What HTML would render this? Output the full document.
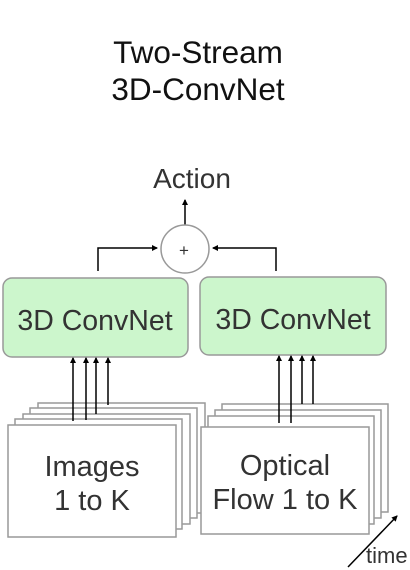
<!DOCTYPE html>
<html><head><style>body{margin:0;background:#fff}svg{display:block}</style></head><body>
<svg width="410" height="570" viewBox="0 0 410 570" xmlns="http://www.w3.org/2000/svg" font-family="Liberation Sans, sans-serif">
<defs><marker id="a" markerWidth="6" markerHeight="6" refX="5" refY="3" orient="auto" markerUnits="userSpaceOnUse"><path d="M0,0 L6,3 L0,6 z" fill="#000"/></marker></defs>
<text x="198" y="63" font-size="31.5" text-anchor="middle" fill="#111">Two-Stream</text>
<text x="198" y="100" font-size="31.5" text-anchor="middle" fill="#111">3D-ConvNet</text>
<text x="192" y="188" font-size="28" text-anchor="middle" fill="#333">Action</text>
<line x1="185" y1="225" x2="185" y2="200" stroke="#000" stroke-width="1.5" marker-end="url(#a)"/>
<circle cx="185" cy="249" r="24" fill="#fff" stroke="#999" stroke-width="1.5"/>
<text x="184" y="256" font-size="17" text-anchor="middle" fill="#333">+</text>
<polyline points="98,271 98,248 157,248" fill="none" stroke="#000" stroke-width="1.5" marker-end="url(#a)"/>
<polyline points="276,271 276,248 213,248" fill="none" stroke="#000" stroke-width="1.5" marker-end="url(#a)"/>
<rect x="3" y="278" width="185" height="79" rx="9" fill="#ccf6cc" stroke="#999" stroke-width="1.5"/>
<rect x="200" y="277" width="186" height="78" rx="9" fill="#ccf6cc" stroke="#999" stroke-width="1.5"/>
<text x="95" y="330" font-size="28.5" text-anchor="middle" fill="#333">3D ConvNet</text>
<text x="293" y="329" font-size="28.5" text-anchor="middle" fill="#333">3D ConvNet</text>
<g fill="#fff" stroke="#999" stroke-width="1.5">
<rect x="38" y="403" width="167" height="110"/>
<rect x="30" y="408" width="167" height="110"/>
<rect x="23" y="414" width="167" height="110"/>
<rect x="15" y="419" width="167" height="110"/>
<rect x="8" y="425" width="168" height="112"/>
<rect x="222" y="404" width="166" height="108"/>
<rect x="215" y="410" width="166" height="108"/>
<rect x="208" y="416" width="166" height="108"/>
<rect x="201" y="427" width="168" height="107"/>
</g>
<g stroke="#000" stroke-width="1.5" marker-end="url(#a)">
<line x1="73" y1="421" x2="73" y2="358"/><line x1="86" y1="420" x2="86" y2="358"/>
<line x1="96" y1="414" x2="96" y2="358"/><line x1="108" y1="405" x2="108" y2="358"/>
<line x1="279" y1="423" x2="279" y2="356"/><line x1="291" y1="423" x2="291" y2="356"/>
<line x1="302" y1="404" x2="302" y2="356"/><line x1="313" y1="404" x2="313" y2="356"/>
</g>
<text x="92" y="476" font-size="29" text-anchor="middle" fill="#333">Images</text>
<text x="92" y="510" font-size="29" text-anchor="middle" fill="#333">1 to K</text>
<text x="285" y="475" font-size="29" text-anchor="middle" fill="#333">Optical</text>
<text x="285" y="509" font-size="29" text-anchor="middle" fill="#333">Flow 1 to K</text>
<line x1="348" y1="567" x2="397" y2="516" stroke="#000" stroke-width="1.5" marker-end="url(#a)"/>
<text x="366" y="563" font-size="22" fill="#333">time</text>
</svg>
</body></html>
